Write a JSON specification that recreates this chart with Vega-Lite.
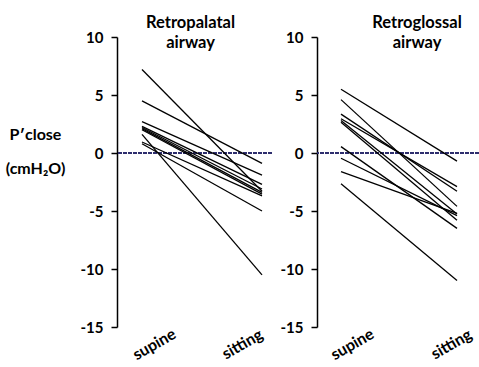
{
  "$schema": "https://vega.github.io/schema/vega-lite/v6.json",
  "background": "white",
  "padding": {"left": 5, "top": 14, "right": 0, "bottom": 0},
  "spacing": 7,
  "datasets": {
    "retropalatal": [
      {"subject": 1, "position": "supine", "value": 7.2}, {"subject": 1, "position": "sitting", "value": -3.3},
      {"subject": 2, "position": "supine", "value": 4.5}, {"subject": 2, "position": "sitting", "value": -0.9},
      {"subject": 3, "position": "supine", "value": 2.7}, {"subject": 3, "position": "sitting", "value": -1.9},
      {"subject": 4, "position": "supine", "value": 2.3}, {"subject": 4, "position": "sitting", "value": -2.7},
      {"subject": 5, "position": "supine", "value": 2.2}, {"subject": 5, "position": "sitting", "value": -3.1},
      {"subject": 6, "position": "supine", "value": 2.1}, {"subject": 6, "position": "sitting", "value": -3.4},
      {"subject": 7, "position": "supine", "value": 2.0}, {"subject": 7, "position": "sitting", "value": -3.55},
      {"subject": 8, "position": "supine", "value": 1.6}, {"subject": 8, "position": "sitting", "value": -10.5},
      {"subject": 9, "position": "supine", "value": 0.95}, {"subject": 9, "position": "sitting", "value": -3.7},
      {"subject": 10, "position": "supine", "value": 0.8}, {"subject": 10, "position": "sitting", "value": -5.0}
    ],
    "retroglossal": [
      {"subject": 1, "position": "supine", "value": 5.5}, {"subject": 1, "position": "sitting", "value": -0.7},
      {"subject": 2, "position": "supine", "value": 4.6}, {"subject": 2, "position": "sitting", "value": -4.6},
      {"subject": 3, "position": "supine", "value": 3.35}, {"subject": 3, "position": "sitting", "value": -3.3},
      {"subject": 4, "position": "supine", "value": 2.95}, {"subject": 4, "position": "sitting", "value": -2.9},
      {"subject": 5, "position": "supine", "value": 2.8}, {"subject": 5, "position": "sitting", "value": -5.25},
      {"subject": 6, "position": "supine", "value": 2.65}, {"subject": 6, "position": "sitting", "value": -5.8},
      {"subject": 7, "position": "supine", "value": 0.55}, {"subject": 7, "position": "sitting", "value": -6.5},
      {"subject": 8, "position": "supine", "value": -0.45}, {"subject": 8, "position": "sitting", "value": -5.4},
      {"subject": 9, "position": "supine", "value": -1.6}, {"subject": 9, "position": "sitting", "value": -5.2},
      {"subject": 10, "position": "supine", "value": -2.65}, {"subject": 10, "position": "sitting", "value": -11.0}
    ]
  },
  "config": {
    "view": {"stroke": null},
    "font": "Lato",
    "axis": {
      "labelFont": "Lato", "labelFontWeight": "bold", "labelFontSize": 15, "labelColor": "black",
      "titleFont": "Lato", "titleFontWeight": "bold", "titleColor": "black",
      "grid": false, "domainColor": "black", "tickColor": "black", "domainWidth": 1.5, "tickWidth": 1.5
    },
    "title": {"font": "Lato", "fontWeight": "bold", "fontSize": 16.5, "color": "black", "lineHeight": 20}
  },
  "hconcat": [
    {
      "width": 155, "height": 290,
      "title": {"text": ["Retropalatal", "airway"], "anchor": "middle", "offset": -21, "dx": -4},
      "data": {"name": "retropalatal"},
      "layer": [
        {
          "mark": {"type": "rule", "color": "#2e2e6e", "strokeWidth": 2, "strokeDash": [1.5, 1]},
          "encoding": {"y": {"datum": 0}}
        },
        {
          "mark": {"type": "line", "color": "black", "strokeWidth": 1.3},
          "encoding": {
            "x": {"field": "position", "type": "ordinal", "sort": ["supine", "sitting"],
                  "scale": {"type": "point", "range": [25, 145], "padding": 0},
                  "axis": {"title": null, "domain": false, "ticks": false, "labelAngle": -30, "labelAlign": "center", "labelBaseline": "middle", "labelPadding": 17, "labelFontSize": 16,
                           "labelOffset": {"condition": {"test": "datum.value == 'supine'", "value": 12}, "value": -20}}},
            "y": {"field": "value", "type": "quantitative",
                  "scale": {"domain": [-15, 10], "nice": false, "zero": false},
                  "axis": {"values": [-15, -10, -5, 0, 5, 10], "tickSize": 6, "labelPadding": 8, "labelExpr": "datum.value + ''",
                           "title": ["P′close", "(cmH₂O)"], "titleAngle": 0, "titleFontSize": 16, "titleLineHeight": 34,
                           "titleAlign": "center", "titleBaseline": "top", "titleX": -82, "titleY": 89}},
            "detail": {"field": "subject"}
          }
        }
      ]
    },
    {
      "width": 162, "height": 290,
      "title": {"text": ["Retroglossal", "airway"], "anchor": "middle", "offset": -21, "dx": 19},
      "data": {"name": "retroglossal"},
      "layer": [
        {
          "mark": {"type": "rule", "color": "#2e2e6e", "strokeWidth": 2, "strokeDash": [1.5, 1]},
          "encoding": {"y": {"datum": 0}}
        },
        {
          "mark": {"type": "line", "color": "black", "strokeWidth": 1.3},
          "encoding": {
            "x": {"field": "position", "type": "ordinal", "sort": ["supine", "sitting"],
                  "scale": {"type": "point", "range": [24, 140], "padding": 0},
                  "axis": {"title": null, "domain": false, "ticks": false, "labelAngle": -30, "labelAlign": "center", "labelBaseline": "middle", "labelPadding": 17, "labelFontSize": 16,
                           "labelOffset": {"condition": {"test": "datum.value == 'supine'", "value": 11}, "value": -6}}},
            "y": {"field": "value", "type": "quantitative",
                  "scale": {"domain": [-15, 10], "nice": false, "zero": false},
                  "axis": {"values": [-15, -10, -5, 0, 5, 10], "tickSize": 6, "labelPadding": 8, "labelExpr": "datum.value + ''", "title": null}},
            "detail": {"field": "subject"}
          }
        }
      ]
    }
  ]
}
